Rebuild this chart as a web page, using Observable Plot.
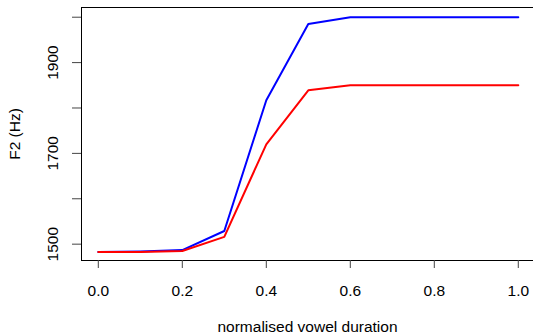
<!DOCTYPE html>
<html>
<head>
<meta charset="utf-8">
<script src="https://cdn.jsdelivr.net/npm/d3@7"></script>
<script src="https://cdn.jsdelivr.net/npm/@observablehq/plot@0.6"></script>
<style>
  html, body { margin: 0; padding: 0; background: white; overflow: hidden; }
  #chart svg { display: block; }
</style>
</head>
<body>
<div id="chart"></div>
<script>
const time = [0.0, 0.1, 0.2, 0.3, 0.4, 0.5, 0.6, 0.7, 0.8, 0.9, 1.0];
const blueF2 = [1483, 1484, 1487, 1529, 1817, 1985, 2000, 2000, 2000, 2000, 2000];
const redF2  = [1483, 1483, 1485, 1516, 1720, 1839, 1850, 1850, 1850, 1850, 1850];
const xTicks = [0.0, 0.2, 0.4, 0.6, 0.8, 1.0];
const yTicks = [1500, 1600, 1700, 1800, 1900, 2000];
const yTickLabels = [1500, 1700, 1900];
const xDomain = [-0.04, 1.0362];
const yDomain = [1464, 2021.4];
const xTitle = "normalised vowel duration";
const yTitle = "F2 (Hz)";

const font = "'Liberation Sans', Arial, Helvetica, sans-serif";
const fs = 15.5;

const chart = Plot.plot({
  width: 533,
  height: 334,
  marginLeft: 81,
  marginRight: 0,
  marginTop: 7,
  marginBottom: 74,
  x: {domain: xDomain},
  y: {domain: yDomain},
  style: {fontFamily: font, fontSize: fs + "px", background: "white", color: "black"},
  marks: [
    Plot.ruleX([xDomain[0]], {stroke: "black", strokeWidth: 1}),
    Plot.ruleY(yDomain, {stroke: "black", strokeWidth: 1}),
    Plot.axisX({ticks: xTicks, tickSize: 8, tickPadding: 16, tickFormat: d => d.toFixed(1), label: null, fontSize: fs, stroke: "#444", fill: "black"}),
    Plot.axisY({ticks: yTicks, tickSize: 9, tickFormat: () => "", label: null, stroke: "#444"}),
    Plot.text(yTickLabels, {y: d => d, frameAnchor: "left", text: d => String(d), rotate: -90, dx: -28, fontSize: fs, textAnchor: "middle", lineAnchor: "middle", fill: "black"}),
    Plot.text([yTitle], {frameAnchor: "left", text: d => d, rotate: -90, dx: -66, fontSize: fs, textAnchor: "middle", lineAnchor: "middle", fill: "black"}),
    Plot.text([xTitle], {frameAnchor: "bottom", text: d => d, dy: 67, fontSize: fs, textAnchor: "middle", lineAnchor: "middle", fill: "black"}),
    Plot.line(time, {x: time, y: blueF2, stroke: "#0000FF", strokeWidth: 2}),
    Plot.line(time, {x: time, y: redF2, stroke: "#FF0000", strokeWidth: 2})
  ]
});
document.getElementById("chart").appendChild(chart);
</script>
</body>
</html>
